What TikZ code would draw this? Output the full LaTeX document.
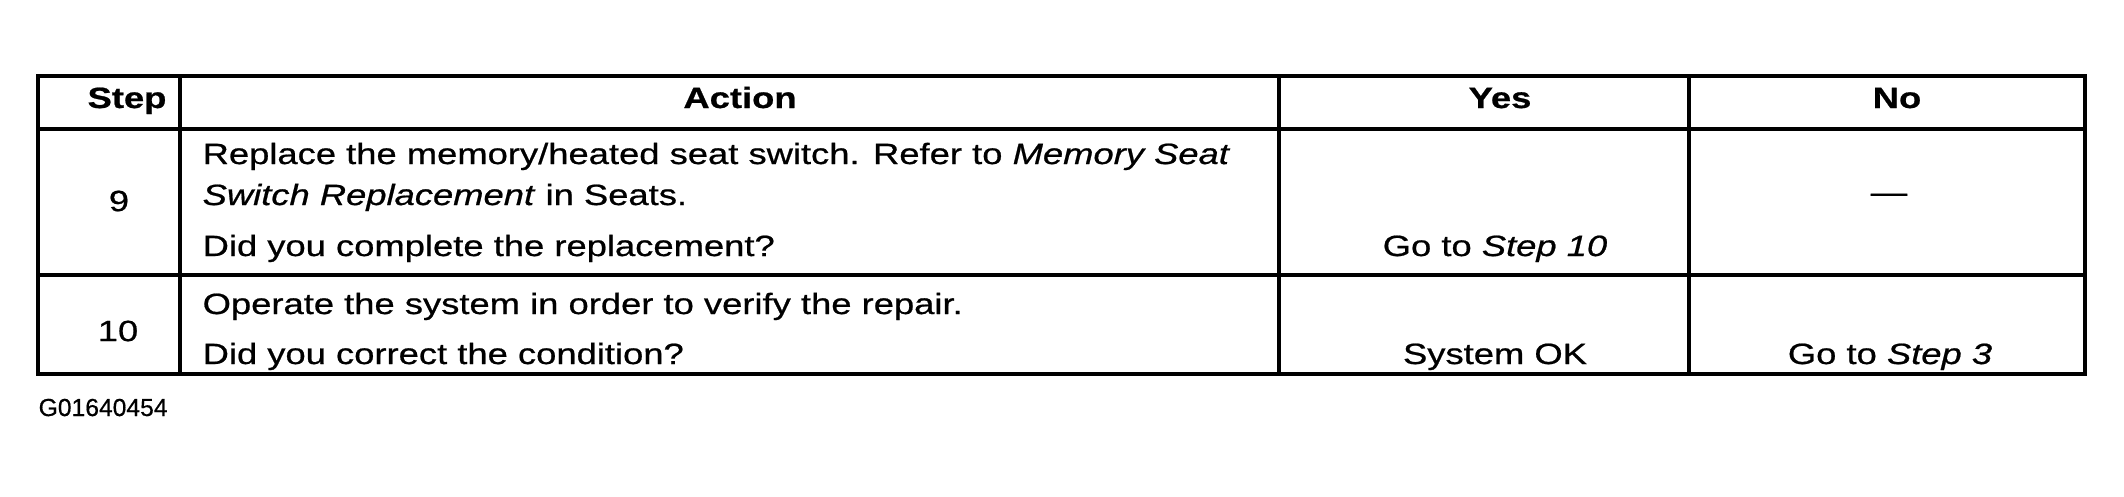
\documentclass[tikz,border=0pt]{standalone}
\usepackage{fontspec}
\setmainfont{Liberation Sans}[FakeStretch=1.24, RawFeature={embolden=0.7}]
\newfontfamily\codefont{Liberation Sans}[RawFeature={embolden=0.5}]
\begin{document}
\begin{tikzpicture}[x=0.3pt,y=-0.3pt,
    cell/.style={inner sep=0pt, font=\fontsize{8.8pt}{10pt}\selectfont},
    head/.style={cell, anchor=base, font=\fontsize{8.8pt}{10pt}\selectfont\bfseries},
    txt/.style={cell, anchor=base west},
    mid/.style={cell, anchor=base},
    rule/.style={line width=1.2pt}]
    \useasboundingbox (0,0) rectangle (2124,496);

    % Grid
    \draw[rule] (38,76) rectangle (2085,374);
    \draw[rule] (38,129) -- (2085,129);
    \draw[rule] (38,275) -- (2085,275);
    \foreach \x in {180,1279,1689} \draw[rule] (\x,76) -- (\x,374);

    % Header
    \node[head] (hstep) at (127,108) {Step};
    \node[head] (haction) at (740,108) {Action};
    \node[head] (hyes) at (1500,108) {Yes};
    \node[head] (hno) at (1897,108) {No};

    % Step 9
    \node[cell] (s9) at (119,201) {9};
    \node[txt] (a9a) at (202,164) {Replace the memory/heated seat switch. Refer to \textit{Memory Seat}};
    \node[txt] (a9b) at (202,205) {\textit{Switch Replacement} in Seats.};
    \node[txt] (a9c) at (202,256) {Did you complete the replacement?};
    \node[mid] (y9) at (1495,256) {Go to \textit{Step 10}};
    \node[cell] (n9) at (1889,198) {---};

    % Step 10
    \node[cell] (s10) at (118,331) {10};
    \node[txt] (a10a) at (202,314) {Operate the system in order to verify the repair.};
    \node[txt] (a10b) at (202,364) {Did you correct the condition?};
    \node[mid] (y10) at (1495,364) {System OK};
    \node[mid] (n10) at (1890,364) {Go to \textit{Step 3}};

    % Figure code
    \node[inner sep=0pt, anchor=base west, font=\codefont\fontsize{7.4pt}{9pt}\selectfont] (fig) at (38,416) {G01640454};
\end{tikzpicture}
\end{document}
